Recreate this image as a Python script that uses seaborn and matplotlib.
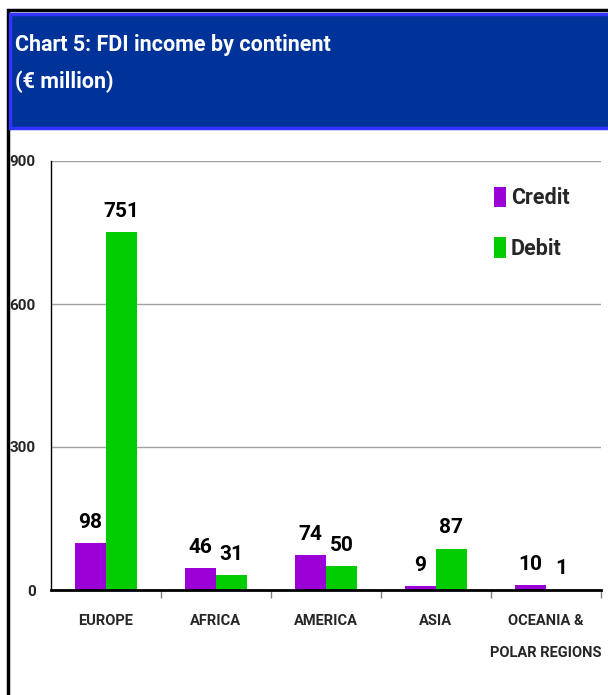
import matplotlib
matplotlib.use("Agg")
import matplotlib.pyplot as plt
from matplotlib.patches import Rectangle
from matplotlib.ticker import FixedLocator
import pandas as pd
import seaborn as sns

# data (EUR million)
continents = ["EUROPE", "AFRICA", "AMERICA", "ASIA", "OCEANIA &\nPOLAR REGIONS"]
credit = [98, 46, 74, 9, 10]
debit = [751, 31, 50, 87, 1]
series = ["Credit", "Debit"]
yticks = [0, 300, 600, 900]

df = pd.DataFrame({
    "continent": continents * 2,
    "flow": ["Credit"] * len(continents) + ["Debit"] * len(continents),
    "value": credit + debit,
})

sns.set_theme(style="white")
plt.rcParams["font.family"] = ["Roboto", "DejaVu Sans"]
plt.rcParams["font.weight"] = "bold"

W, H = 608, 695
fig = plt.figure(figsize=(W / 100, H / 100), dpi=100)

# outer frame + title banner
fig.patches.append(Rectangle((8 / W, -0.1), 1.2, 1 - 10 / H + 0.1, transform=fig.transFigure,
                             facecolor="none", edgecolor="black", lw=2.5, zorder=-5))
fig.patches.append(Rectangle((10 / W, 1 - 128 / H), 1.2, 114 / H, transform=fig.transFigure,
                             facecolor="#003399", edgecolor="#3333ff", lw=2.5, zorder=-4))
fig.text(15 / W, 1 - 45 / H, "Chart 5: FDI income by continent", color="white",
         fontsize=15.5, fontweight="bold", va="center", ha="left")
fig.text(15 / W, 1 - 82 / H, "(€ million)", color="white",
         fontsize=15.5, fontweight="bold", va="center", ha="left")

ax = fig.add_axes([51 / W, 1 - 590 / H, 550 / W, 429 / H])
ax.patch.set_alpha(0)
pal = {"Credit": "#9b00d6", "Debit": "#00cc00"}
sns.barplot(data=df, x="continent", y="value", hue="flow", hue_order=series,
            palette=pal, width=0.56, gap=0, saturation=1, ax=ax,
            edgecolor="none", linewidth=0)

for c in ax.containers:
    ax.bar_label(c, labels=[f"{v:.0f}" for v in c.datavalues], padding=8,
                 fontsize=15, fontweight="bold", color="black")

ax.set_ylim(0, 900)
ax.set_xlim(-0.5, len(continents) - 0.5)
ax.set_yticks(yticks)
ax.set_yticklabels([str(v) for v in yticks], fontsize=11, fontweight="bold")
ax.yaxis.grid(True, color="#a0a0a0", lw=1)
ax.set_axisbelow(True)
ax.set_xlabel("")
ax.set_ylabel("")
ax.tick_params(axis="x", which="major", length=0, pad=17, labelsize=10.5)
ax.tick_params(axis="y", which="major", length=5, width=1, color="black", direction="out", pad=6)
ax.xaxis.set_minor_locator(FixedLocator([i + 0.5 for i in range(len(continents))]))
ax.tick_params(axis="x", which="minor", bottom=True, length=6, width=1, color="#808080", direction="out")
for lbl in ax.get_xticklabels():
    lbl.set_fontweight("bold")
    lbl.set_linespacing(2.7)
for s in ["top", "right"]:
    ax.spines[s].set_visible(False)
ax.spines["left"].set_color("black")
ax.spines["left"].set_linewidth(1)
ax.spines["bottom"].set_color("black")
ax.spines["bottom"].set_linewidth(2)

leg = ax.legend(title=None, loc="upper left", bbox_to_anchor=(0.77, 0.985), frameon=False,
                fontsize=15.5, handlelength=0.55, handleheight=1.1, handletextpad=0.25,
                labelspacing=1.3)
for t in leg.get_texts():
    t.set_fontweight("bold")

fig.savefig("out.png", dpi=100)
